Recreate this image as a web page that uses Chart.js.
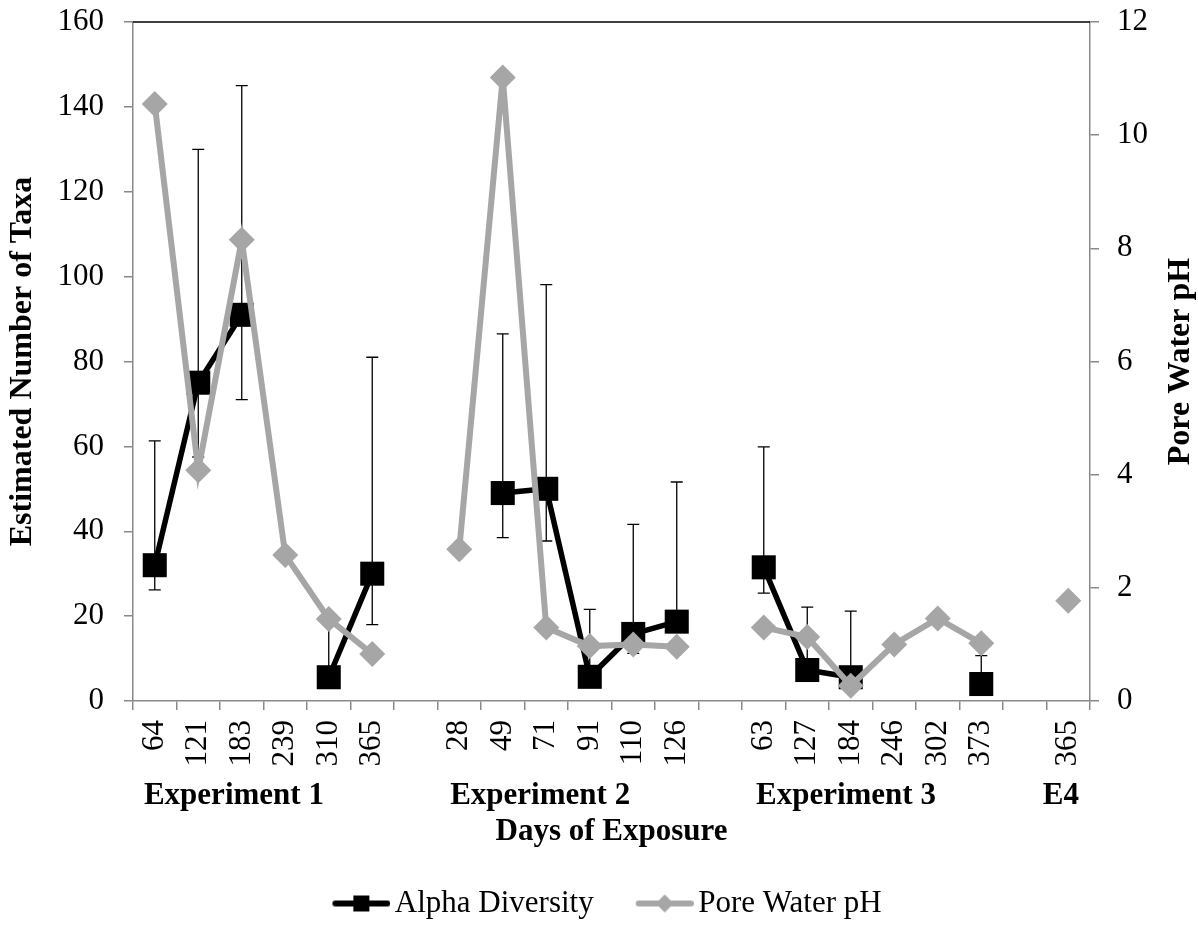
<!DOCTYPE html>
<html>
<head>
<meta charset="utf-8">
<title>Alpha Diversity and Pore Water pH</title>
<script src="https://cdn.jsdelivr.net/npm/chart.js@4.4.1/dist/chart.umd.min.js"></script>
<style>
  html, body { margin: 0; padding: 0; background: #fff; }
  #wrap { width: 1198px; height: 929px; }
</style>
</head>
<body>
<div id="wrap"><canvas id="chart"></canvas></div>
<script>
// Days of exposure, blank slots separate the experiments
const days = ['64', '121', '183', '239', '310', '365', '',
              '28', '49', '71', '91', '110', '126', '',
              '63', '127', '184', '246', '302', '373', '',
              '365'];
const groupLabels = ['Experiment 1', 'Experiment 2', 'Experiment 3', 'E4'];

const alphaDiversity = [32, 75, 91, null, 5.6, 30, null,
                        null, 49, 50, 5.7, 15.8, 18.7, null,
                        31.5, 7.3, 5.6, null, null, 4, null,
                        null];
const alphaUpper = [61.3, 130, 145, null, 19, 81, null,
                    null, 86.5, 98.1, 21.6, 41.6, 51.6, null,
                    59.9, 22.1, 21.2, null, null, 10.7, null,
                    null];
const alphaLower = [26.2, 57.5, 71, null, null, 18, null,
                    null, 38.5, 37.7, null, 11.2, null, null,
                    25.4, null, null, null, null, null, null,
                    null];
const poreWaterPH = [10.55, 4.08, 8.15, 2.58, 1.45, 0.83, null,
                     2.68, 11.02, 1.30, 0.97, 1.0, 0.96, null,
                     1.30, 1.13, 0.27, 1.0, 1.46, 1.02, null,
                     1.77];

const serif = 'Liberation Serif';
const axisGrey = '#898989';
const phGrey = '#a6a6a6';

// little line + marker pictures for the legend
function legendSample(color, marker) {
  const c = document.createElement('canvas');
  c.width = 105;
  c.height = 30;
  const g = c.getContext('2d');
  g.strokeStyle = color;
  g.fillStyle = color;
  g.lineWidth = 6;
  g.lineCap = 'round';
  g.beginPath();
  g.moveTo(50, 15);
  g.lineTo(102, 15);
  g.stroke();
  const cx = 76;
  if (marker === 'rect') {
    g.fillRect(cx - 8, 7, 16, 16);
  } else {
    g.beginPath();
    g.moveTo(cx - 9, 15);
    g.lineTo(cx, 6);
    g.lineTo(cx + 9, 15);
    g.lineTo(cx, 24);
    g.closePath();
    g.fill();
  }
  return c;
}
const legendSamples = [legendSample('#000', 'rect'), legendSample(phGrey, 'diamond')];

const errorBars = {
  id: 'errorBars',
  beforeDatasetsDraw(chart) {
    const {ctx, scales: {x, y}} = chart;
    ctx.save();
    ctx.strokeStyle = '#000';
    ctx.lineWidth = 1.3;
    alphaDiversity.forEach((v, i) => {
      if (v === null) return;
      const px = x.getPixelForValue(i);
      const mid = y.getPixelForValue(v);
      const top = y.getPixelForValue(alphaUpper[i]);
      ctx.beginPath();
      ctx.moveTo(px, mid);
      ctx.lineTo(px, top);
      ctx.moveTo(px - 6, top);
      ctx.lineTo(px + 6, top);
      if (alphaLower[i] !== null) {
        const bot = y.getPixelForValue(alphaLower[i]);
        ctx.moveTo(px, mid);
        ctx.lineTo(px, bot);
        ctx.moveTo(px - 6, bot);
        ctx.lineTo(px + 6, bot);
      }
      ctx.stroke();
    });
    ctx.restore();
  }
};

const extras = {
  id: 'extras',
  beforeDatasetsDraw(chart) {
    const {ctx, chartArea} = chart;
    // black top edge of the plot area
    ctx.save();
    ctx.strokeStyle = '#000';
    ctx.lineWidth = 1.6;
    ctx.beginPath();
    ctx.moveTo(chartArea.left, chartArea.top);
    ctx.lineTo(chartArea.right, chartArea.top);
    ctx.stroke();
    ctx.restore();
  },
  afterDraw(chart, args, opts) {
    const {ctx, chartArea, scales: {x}} = chart;
    ctx.save();
    ctx.fillStyle = '#000';
    ctx.font = 'bold 31px "' + serif + '"';
    ctx.textAlign = 'center';
    ctx.textBaseline = 'middle';
    groupLabels.forEach((t, i) => {
      ctx.fillText(t, x.getPixelForValue(opts.groupAt[i]), chartArea.bottom + 95);
    });
    // right axis title reads bottom to top
    ctx.font = 'bold 32px "' + serif + '"';
    ctx.translate(1181, (chartArea.top + chartArea.bottom) / 2);
    ctx.rotate(-Math.PI / 2);
    ctx.fillText('Pore Water pH', 0, 0);
    ctx.restore();
  }
};

new Chart(document.getElementById('chart'), {
  type: 'line',
  data: {
    labels: days,
    datasets: [{
      label: 'Alpha Diversity',
      data: alphaDiversity,
      yAxisID: 'y',
      order: 2,
      borderColor: '#000',
      backgroundColor: '#000',
      borderWidth: 5.5,
      pointStyle: 'rect',
      pointRadius: 17,
      pointBorderWidth: 0,
      pointHoverRadius: 17,
      spanGaps: false,
      tension: 0
    }, {
      label: 'Pore Water pH',
      data: poreWaterPH,
      yAxisID: 'y1',
      order: 1,
      borderColor: phGrey,
      backgroundColor: phGrey,
      borderWidth: 6,
      pointStyle: 'rectRot',
      pointRadius: 13,
      pointBorderWidth: 0,
      pointHoverRadius: 13,
      spanGaps: false,
      tension: 0
    }]
  },
  options: {
    responsive: true,
    maintainAspectRatio: false,
    animation: false,
    clip: false,
    layout: { padding: { top: 22, left: 0, right: 20, bottom: 0 } },
    plugins: {
      tooltip: { enabled: false },
      legend: {
        position: 'bottom',
        labels: {
          usePointStyle: true,
          pointStyleWidth: 83,
          padding: 6,
          color: '#000',
          font: { family: serif, size: 31 },
          generateLabels: (chart) => chart.data.datasets.map((ds, i) => ({
            text: ds.label,
            pointStyle: legendSamples[i],
            fillStyle: ds.borderColor,
            strokeStyle: ds.borderColor,
            lineWidth: 0,
            hidden: false,
            datasetIndex: i
          }))
        }
      },
      extras: { groupAt: [1.82, 8.86, 15.89, 20.83] }
    },
    scales: {
      x: {
        type: 'category',
        offset: true,
        grid: { offset: true, drawOnChartArea: false, tickLength: 9, color: axisGrey, lineWidth: 1.5 },
        border: { color: axisGrey, width: 1.5 },
        ticks: {
          autoSkip: false, minRotation: 90, maxRotation: 90, padding: 10,
          color: '#000', font: { family: serif, size: 31 }
        },
        title: {
          display: true, text: 'Days of Exposure', color: '#000',
          font: { family: serif, size: 31, weight: 'bold' },
          padding: { top: 0, bottom: 31 }
        },
        afterFit: (s) => { s.height = 181; }
      },
      y: {
        position: 'left',
        min: 0, max: 160,
        ticks: { stepSize: 20, padding: 20, color: '#000', font: { family: serif, size: 31 } },
        grid: { drawOnChartArea: false, tickLength: 9, color: axisGrey, lineWidth: 1.5 },
        border: { color: axisGrey, width: 1.5 },
        title: {
          display: true, text: 'Estimated Number of Taxa', color: '#000',
          font: { family: serif, size: 32, weight: 'bold' },
          padding: { top: 4, bottom: 0 }
        },
        afterFit: (s) => { s.width = 133; s.paddingTop = 0; s.paddingBottom = 0; }
      },
      y1: {
        position: 'right',
        min: 0, max: 12,
        ticks: { stepSize: 2, padding: 18, color: '#000', font: { family: serif, size: 31 } },
        grid: { drawOnChartArea: false, tickLength: 9, color: axisGrey, lineWidth: 1.5 },
        border: { color: axisGrey, width: 1.5 },
        afterFit: (s) => { s.width = 88; s.paddingTop = 0; s.paddingBottom = 0; }
      }
    }
  },
  plugins: [errorBars, extras]
});
</script>
</body>
</html>
